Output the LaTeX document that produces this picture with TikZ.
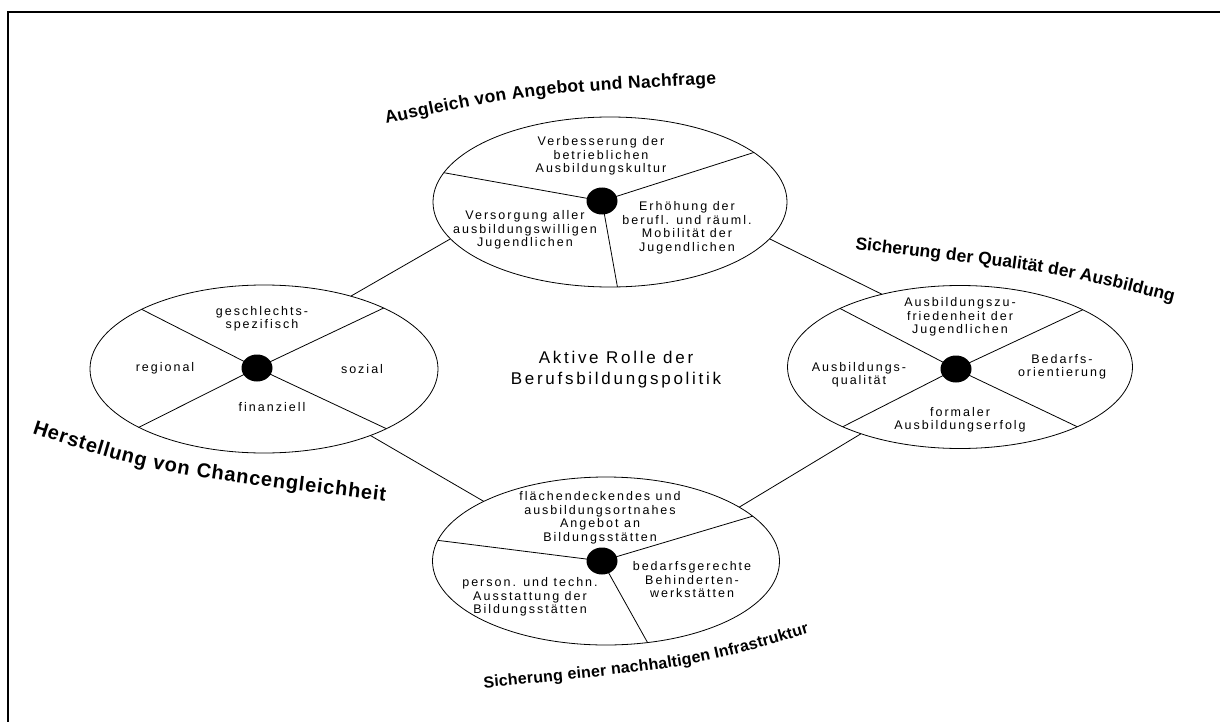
\documentclass[tikz,border=0pt]{standalone}
\usepackage{fontspec}
\setmainfont{Liberation Sans}
\newfontfamily\spacedfont[LetterSpace=16]{Liberation Sans}
\usetikzlibrary{shapes.geometric, decorations.text}

\begin{document}
\begin{tikzpicture}[x=1pt, y=-1pt, line width=0.8pt,
	field/.style={draw, ellipse, inner sep=0pt, outer sep=0pt},
	hub/.style={fill, ellipse, minimum width=31pt, minimum height=27pt, inner sep=0pt},
	item/.style={align=center, inner sep=0pt, font=\spacedfont\fontsize{12.5}{13.5}\selectfont},
	goal/.style={decorate, decoration={text along path, text align={fit to path}, text={#1}}}]
	\useasboundingbox (0,0) rectangle (1220,722);

	% frame
	\draw [line width=1.6pt] (8,740) -- (8,12) -- (1240,12);

	% the four fields
	\node (ellT) [field, minimum width=354pt, minimum height=170pt] at (610,202) {};
	\node (ellL) [field, minimum width=348pt, minimum height=168pt] at (264,369) {};
	\node (ellR) [field, minimum width=345pt, minimum height=163pt] at (960,367) {};
	\node (ellB) [field, minimum width=347pt, minimum height=168pt] at (606,561) {};

	\node (dotT) [hub] at (602,201) {};
	\node (dotL) [hub] at (257,368) {};
	\node (dotR) [hub] at (956,369) {};
	\node (dotB) [hub] at (602,561) {};

	\draw (dotT.center) -- (ellT.170);
	\draw (dotT.center) -- (ellT.19);
	\draw (dotT.center) -- (ellT.275);

	\draw (dotL.center) -- (ellL.154);
	\draw (dotL.center) -- (ellL.27);
	\draw (dotL.center) -- (ellL.205);
	\draw (dotL.center) -- (ellL.334);

	\draw (dotR.center) -- (ellR.154);
	\draw (dotR.center) -- (ellR.25);
	\draw (dotR.center) -- (ellR.207);
	\draw (dotR.center) -- (ellR.333);

	\draw (dotB.center) -- (ellB.173);
	\draw (dotB.center) -- (ellB.17);
	\draw (dotB.center) -- (ellB.297);

	% links between the fields
	\draw (ellL.40) -- (ellT.193);
	\draw (ellT.347) -- (ellR.137);
	\draw (ellL.328) -- (ellB.154);
	\draw (ellR.214) -- (ellB.22);

	% texts
	\node (culture) [item] at (601,156) {Verbesserung der\\betrieblichen\\Ausbildungskultur};
	\node (supply) [item] at (525,230) {Versorgung aller\\ausbildungswilligen\\Jugendlichen};
	\node (mobility) [item] at (687,228) {Erhöhung der\\berufl. und räuml.\\Mobilität der\\Jugendlichen};

	\node (gender) [item] at (262,319) {geschlechts-\\spezifisch};
	\node (regional) [item] at (165,368) {regional};
	\node (social) [item] at (362,369) {sozial};
	\node (finance) [item] at (272,407) {finanziell};

	\node (satisfaction) [item] at (960,317) {Ausbildungszu-\\friedenheit der\\Jugendlichen};
	\node (quality) [item] at (859,375) {Ausbildungs-\\qualität};
	\node (demand) [item] at (1062,367) {Bedarfs-\\orientierung};
	\node (success) [item] at (960,420) {formaler\\Ausbildungserfolg};

	\node (coverage) [item] at (600,518) {flächendeckendes und\\ausbildungsortnahes\\Angebot an\\Bildungsstätten};
	\node (equipment) [item] at (530,597) {person. und techn.\\Ausstattung der\\Bildungsstätten};
	\node (workshops) [item] at (692,580) {bedarfsgerechte\\Behinderten-\\werkstätten};

	\node (role) [align=center, font=\spacedfont\fontsize{17}{21}\selectfont] at (616,370) {Aktive Rolle der\\Berufsbildungspolitik};

	% curved titles
	\path [goal={|\bfseries\fontsize{17.5}{17.5}\selectfont|Ausgleich von Angebot und Nachfrage}]
		(386,124) .. controls (526,94) .. (716,84);
	\path [goal={|\bfseries\fontsize{17.5}{17.5}\selectfont|Sicherung der Qualität der Ausbildung}]
		(855,249) .. controls (1059,273) .. (1173,302);
	\path [goal={|\bfseries\fontsize{20}{20}\selectfont|Herstellung von Chancengleichheit}]
		(32,433) .. controls (153,473) .. (385,501);
	\path [goal={|\bfseries\fontsize{16}{16}\selectfont|Sicherung einer nachhaltigen Infrastruktur}]
		(484,688) .. controls (695,667) .. (809,633);
\end{tikzpicture}
\end{document}
